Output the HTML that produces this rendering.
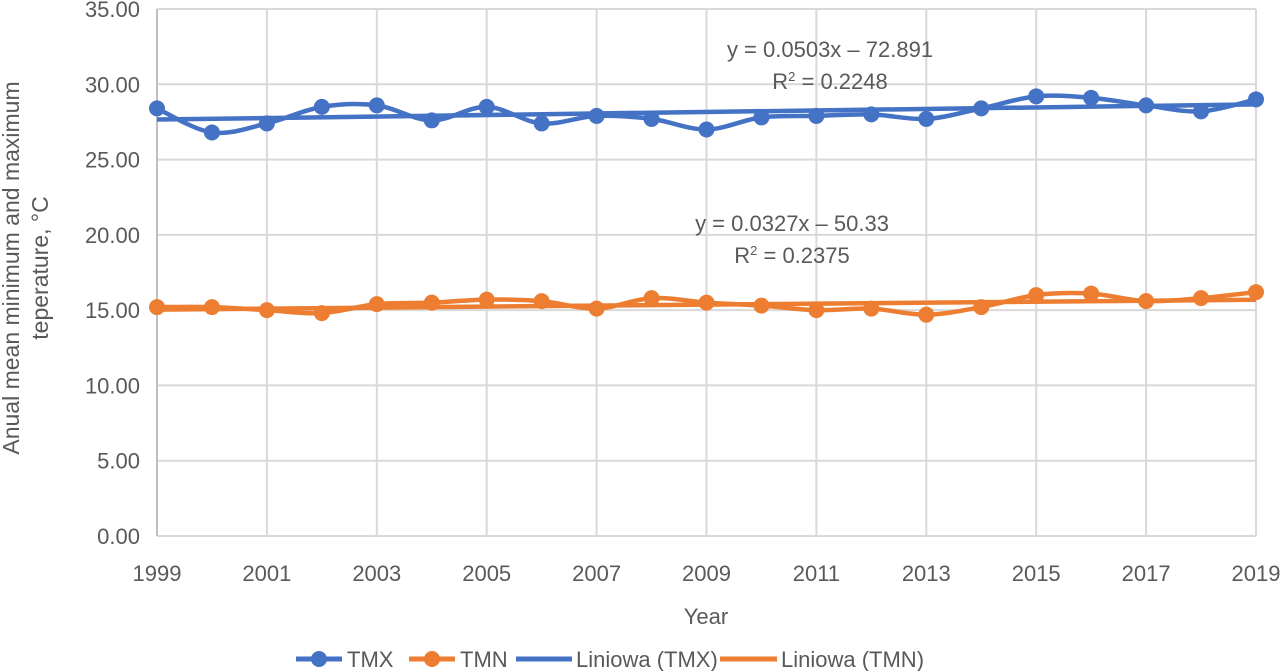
<!DOCTYPE html>
<html><head><meta charset="utf-8"><style>
html,body{margin:0;padding:0;background:#fff;width:1280px;height:671px;overflow:hidden}
svg text{font-family:"Liberation Sans",sans-serif;fill:#595959}
</style></head><body>
<svg id="chart" width="1280" height="671" viewBox="0 0 1280 671" xmlns="http://www.w3.org/2000/svg">
<g id="grid"></g>
<g id="axes"></g>
<g id="series"></g>
<text x="830" y="57" font-size="22" text-anchor="middle">y = 0.0503x – 72.891</text>
<text x="830" y="89" font-size="22" text-anchor="middle">R<tspan font-size="13" dy="-8">2</tspan><tspan dy="8"> = 0.2248</tspan></text>
<text x="792" y="231" font-size="22" text-anchor="middle">y = 0.0327x – 50.33</text>
<text x="792" y="263" font-size="22" text-anchor="middle">R<tspan font-size="13" dy="-8">2</tspan><tspan dy="8"> = 0.2375</tspan></text>
<text transform="translate(19,268) rotate(-90)" font-size="23" text-anchor="middle">Anual mean minimum and maximum</text>
<text transform="translate(48,268) rotate(-90)" font-size="23" text-anchor="middle">teperature, °C</text>
<text x="706" y="624" font-size="22" text-anchor="middle">Year</text>
<g>
<g><line x1="296" y1="659" x2="342" y2="659" stroke="#4472C4" stroke-width="5"/><circle cx="319" cy="659" r="8" fill="#4472C4"/><text x="347" y="667" font-size="22">TMX</text></g>
<g><line x1="409" y1="659" x2="455" y2="659" stroke="#ED7D31" stroke-width="5"/><circle cx="432" cy="659" r="8" fill="#ED7D31"/><text x="460" y="667" font-size="22">TMN</text></g>
<g><line x1="516" y1="659" x2="572" y2="659" stroke="#4472C4" stroke-width="5"/><text x="576" y="667" font-size="22">Liniowa (TMX)</text></g>
<g><line x1="720" y1="659" x2="777" y2="659" stroke="#ED7D31" stroke-width="5"/><text x="781" y="667" font-size="22">Liniowa (TMN)</text></g>
</g>
</svg>
<script>
const years=[1999,2000,2001,2002,2003,2004,2005,2006,2007,2008,2009,2010,2011,2012,2013,2014,2015,2016,2017,2018,2019];
const tmx=[28.4,26.8,27.4,28.5,28.6,27.6,28.5,27.4,27.9,27.7,27.0,27.8,27.9,28.0,27.7,28.4,29.2,29.1,28.6,28.2,29.0];
const tmn=[15.2,15.2,15.0,14.8,15.4,15.5,15.7,15.6,15.1,15.8,15.5,15.3,15.0,15.1,14.7,15.2,16.0,16.1,15.6,15.8,16.2];
const yTicks=[0,5,10,15,20,25,30,35];
const xTicks=[1999,2001,2003,2005,2007,2009,2011,2013,2015,2017,2019];
const tmxTrend=[0.0503,-72.891];
const tmnTrend=[0.0327,-50.33];
const NS='http://www.w3.org/2000/svg';
const X0=157,X1=1256,Y0=536,Y1=9;
const xs=v=>X0+(v-1999)/(2019-1999)*(X1-X0);
const ys=v=>Y0-(v/35)*(Y0-Y1);
function mk(t,a,p){const e=document.createElementNS(NS,t);for(const k in a)e.setAttribute(k,a[k]);p.appendChild(e);return e;}
const grid=document.getElementById('grid'),axes=document.getElementById('axes'),ser=document.getElementById('series');
yTicks.forEach(v=>{const l=mk('line',{x1:X0,x2:X1,y1:ys(v),y2:ys(v),stroke:'#d9d9d9','stroke-width':2},grid);


const t=mk('text',{x:140,y:ys(v)+8,'font-size':22,'text-anchor':'end'},axes);t.textContent=v.toFixed(2);

});
xTicks.forEach(v=>{const l=mk('line',{x1:xs(v),x2:xs(v),y1:Y1,y2:Y0,stroke:v===1999?'#bfbfbf':'#d9d9d9','stroke-width':2},grid);


const t=mk('text',{x:xs(v),y:581,'font-size':22,'text-anchor':'middle'},axes);t.textContent=v;

});
function smooth(pts){let d='M'+pts[0][0]+','+pts[0][1];for(let i=0;i<pts.length-1;i++){const p0=pts[i-1]||pts[i],p1=pts[i],p2=pts[i+1],p3=pts[i+2]||p2;
const c1=[p1[0]+(p2[0]-p0[0])/6,p1[1]+(p2[1]-p0[1])/6],c2=[p2[0]-(p3[0]-p1[0])/6,p2[1]-(p3[1]-p1[1])/6];
d+=' C'+c1+' '+c2+' '+p2;}return d;}
function trend(c,color,name){const l=mk('line',{x1:xs(years[0]),y1:ys(c[0]*years[0]+c[1]),x2:xs(years[years.length-1]),y2:ys(c[0]*years[years.length-1]+c[1]),stroke:color,'stroke-width':4.5},ser);

}
function series(vals,color,name){const pts=vals.map((v,i)=>[xs(years[i]),ys(v)]);
const p=mk('path',{d:smooth(pts),fill:'none',stroke:color,'stroke-width':4.5},ser);


pts.forEach(q=>{const c=mk('circle',{cx:q[0],cy:q[1],r:8,fill:color},ser);

});}
trend(tmxTrend,'#4472C4','tmx-trendline');
trend(tmnTrend,'#ED7D31','tmn-trendline');
series(tmx,'#4472C4','tmx');
series(tmn,'#ED7D31','tmn');
</script>
</body></html>
